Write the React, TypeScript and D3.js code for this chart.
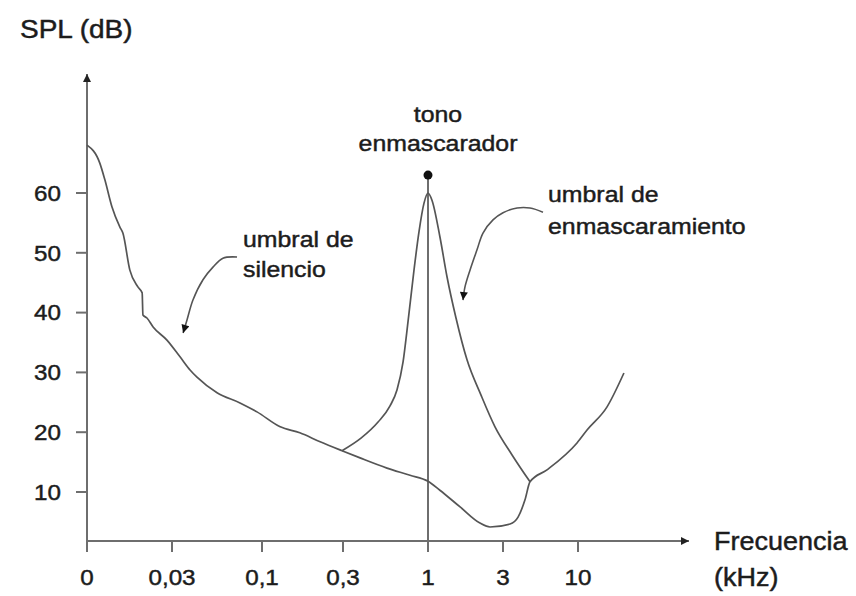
import React from "react";
import * as d3 from "d3";

// ---- data (frequency in kHz, level in dB SPL) ----
const xTickValues = [0.01, 0.03, 0.1, 0.3, 1, 3, 10];
const xTickLabels = ["0", "0,03", "0,1", "0,3", "1", "3", "10"];
const yTickValues = [10, 20, 30, 40, 50, 60];

const silenceFreq = [0.01, 0.0118, 0.0126, 0.0138, 0.0153, 0.0159, 0.0174, 0.0193, 0.0204, 0.0206, 0.0217, 0.0235, 0.0281, 0.0334, 0.0382, 0.0419, 0.0548, 0.0745, 0.0935, 0.128, 0.167, 0.22, 0.296, 0.382, 0.559, 0.775, 1, 1.19, 1.6, 2.14, 2.48, 3.36, 3.82, 4.27, 4.63, 6.08, 9.84, 11.6, 15.9, 20.9];
const silenceDb = [68, 65, 62.2, 57.7, 54.3, 53.3, 47.1, 44.3, 43.3, 39.6, 39.1, 37.6, 35.4, 32.6, 30.4, 29.2, 26.6, 24.9, 23.4, 20.9, 19.9, 18.4, 16.9, 15.7, 14.0, 12.8, 11.8, 10.3, 7.5, 4.8, 4.15, 4.65, 5.8, 8.7, 11.7, 13.7, 18.2, 20.4, 24.2, 29.9];

const maskFreq = [0.296, 0.387, 0.493, 0.584, 0.645, 0.702, 0.753, 0.82, 0.88, 0.945, 1, 1.06, 1.192, 1.321, 1.507, 1.771, 2.174, 2.668, 3.47, 4.63];
const maskDb = [16.9, 19.0, 21.7, 24.4, 27.1, 31.7, 38.4, 47.1, 53.5, 58.3, 60, 58.8, 52.6, 46.0, 39.1, 32.1, 26.2, 20.9, 16.2, 11.7];

const toneFreq = 1;
const toneDb = 63;

const silenceArrowFreq = [0.0716, 0.0593, 0.0519, 0.0454, 0.0397, 0.0367, 0.0348];
const silenceArrowDb = [49.3, 49.1, 47.6, 45.5, 42.1, 38.8, 36.6];
const maskArrowFreq = [5.7, 4.63, 3.76, 3.0, 2.591, 2.238, 2.05, 1.85, 1.719, 1.67];
const maskArrowDb = [56.8, 57.5, 57.5, 56.7, 55.5, 53.3, 50.5, 47.1, 44.3, 42.1];

// ---- layout ----
const W = 856;
const H = 596;
const xRange = [87, 172, 262, 343, 428, 503, 578];
const yDomain = [10, 60];
const yRange = [492, 193];
const axisY = 541;
const axisTop = 74;
const axisRight = 689;
const FONT = "'Liberation Sans', Arial, Helvetica, sans-serif";
const AXIS_COLOR = "#6e6e6e";
const CURVE_COLOR = "#555555";
const TEXT_COLOR = "#1c1c1c";

type LabelProps = { x: number; y: number; size: number; sx?: number; anchor?: string; children: React.ReactNode; dy?: string };
function Label({ x, y, size, sx = 1.12, anchor = "start", children, dy }: LabelProps) {
  return (
    <text
      transform={`translate(${x},${y}) scale(${sx},1)`}
      textAnchor={anchor}
      fontFamily={FONT}
      fontSize={size}
      fill={TEXT_COLOR}
      stroke={TEXT_COLOR}
      strokeWidth={0.45}
      dy={dy}
    >
      {children}
    </text>
  );
}

export default function App() {
  const x = d3.scaleLog().domain(xTickValues).range(xRange);
  const y = d3.scaleLinear().domain(yDomain).range(yRange);

  const pts = (fs: number[], ds: number[]) => fs.map((f, i) => [f, ds[i]] as [number, number]);
  const curve = d3
    .line<[number, number]>()
    .x((d) => x(d[0]))
    .y((d) => y(d[1]))
    .curve(d3.curveMonotoneX);
  const arrowLine = d3
    .line<[number, number]>()
    .x((d) => x(d[0]))
    .y((d) => y(d[1]))
    .curve(d3.curveCatmullRom);

  const x0 = x(xTickValues[0]);

  return (
    <svg width={W} height={H} style={{ position: "absolute", left: 0, top: 0, background: "#fff" }}>
      <defs>
        <marker id="ah" viewBox="0 0 10 10" refX="10" refY="5" markerUnits="userSpaceOnUse" markerWidth="9" markerHeight="8" orient="auto">
          <path d="M0,0 L10,5 L0,10 z" fill="#111" />
        </marker>
        <marker id="axh" viewBox="0 0 10 10" refX="10" refY="5" markerUnits="userSpaceOnUse" markerWidth="8" markerHeight="8" orient="auto">
          <path d="M0,0 L10,5 L0,10 z" fill="#222" />
        </marker>
      </defs>

      {/* axes */}
      <line x1={x0} y1={axisY} x2={x0} y2={axisTop} stroke={AXIS_COLOR} strokeWidth={2} markerEnd="url(#axh)" />
      <line x1={x0} y1={axisY} x2={axisRight} y2={axisY} stroke={AXIS_COLOR} strokeWidth={2} markerEnd="url(#axh)" />

      {/* y ticks */}
      {yTickValues.map((v) => (
        <g key={v}>
          <line x1={x0 - 11} x2={x0} y1={y(v)} y2={y(v)} stroke={AXIS_COLOR} strokeWidth={2} />
          <Label x={61} y={y(v)} size={22} sx={1.1} anchor="end" dy="0.35em">
            {v}
          </Label>
        </g>
      ))}

      {/* x ticks */}
      {xTickValues.map((f, i) => (
        <g key={f}>
          <line x1={x(f)} x2={x(f)} y1={axisY} y2={axisY + 11} stroke={AXIS_COLOR} strokeWidth={2} />
          <Label x={x(f)} y={585} size={22} sx={1.1} anchor="middle">
            {xTickLabels[i]}
          </Label>
        </g>
      ))}

      {/* masking tone vertical line */}
      <line x1={x(toneFreq)} x2={x(toneFreq)} y1={y(toneDb)} y2={axisY} stroke={AXIS_COLOR} strokeWidth={2} />

      {/* curves */}
      <path d={curve(pts(silenceFreq, silenceDb)) || ""} fill="none" stroke={CURVE_COLOR} strokeWidth={1.7} />
      <path d={curve(pts(maskFreq, maskDb)) || ""} fill="none" stroke={CURVE_COLOR} strokeWidth={1.7} />

      {/* tone dot */}
      <circle cx={x(toneFreq)} cy={y(toneDb)} r={4.5} fill="#111" />

      {/* annotation arrows */}
      <path d={arrowLine(pts(silenceArrowFreq, silenceArrowDb)) || ""} fill="none" stroke={CURVE_COLOR} strokeWidth={1.6} markerEnd="url(#ah)" />
      <path d={arrowLine(pts(maskArrowFreq, maskArrowDb)) || ""} fill="none" stroke={CURVE_COLOR} strokeWidth={1.6} markerEnd="url(#ah)" />

      {/* titles */}
      <Label x={20} y={38} size={25} sx={1.12}>SPL (dB)</Label>
      <Label x={714} y={550} size={25} sx={1.08}>Frecuencia</Label>
      <Label x={714} y={586} size={25} sx={1.08}>(kHz)</Label>

      {/* annotations */}
      <Label x={438} y={122} size={22} sx={1.13} anchor="middle">tono</Label>
      <Label x={438} y={151} size={22} sx={1.13} anchor="middle">enmascarador</Label>
      <Label x={243} y={247} size={22} sx={1.13}>umbral de</Label>
      <Label x={243} y={277} size={22} sx={1.13}>silencio</Label>
      <Label x={548} y={202} size={22} sx={1.13}>umbral de</Label>
      <Label x={548} y={234} size={22} sx={1.13}>enmascaramiento</Label>
    </svg>
  );
}
